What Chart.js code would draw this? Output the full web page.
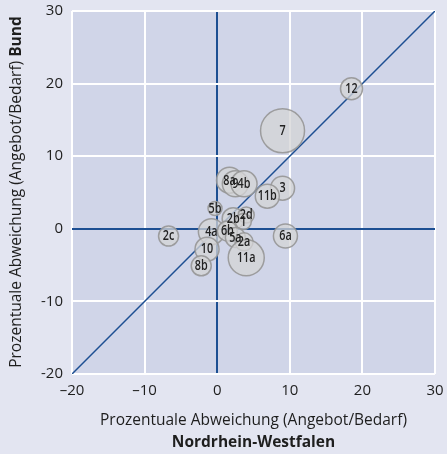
<!DOCTYPE html>
<html>
<head>
<meta charset="utf-8">
<script src="https://cdn.jsdelivr.net/npm/chart.js@4.4.1/dist/chart.umd.min.js"></script>
<style>
html,body{margin:0;padding:0;background:#e3e5f1;}
#wrap{width:447px;height:454px;position:relative;}
</style>
</head>
<body>
<div id="wrap"><canvas id="c" width="447" height="454"></canvas></div>
<script>
// Data
const bubbleLabels = ['12','7','3','11b','8a','9','4b','5b','2b','2d','1','4a','6b','5a','2a','11a','10','8b','2c','6a'];
const xValues      = [18.5, 9.0, 9.0, 6.9, 1.7, 2.5, 3.7, -0.3, 2.2, 4.0, 3.6, -0.8, 1.4, 2.5, 3.7, 4.0, -1.4, -2.2, -6.7, 9.4];
const yValues      = [19.3,13.5, 5.6, 4.5, 6.7, 6.2, 6.2,  2.8, 1.4, 1.9, 1.0, -0.4,-0.3,-1.2,-1.8,-4.0, -2.8, -5.1, -1.0,-1.0];
const bubbleSizes  = [11, 22, 12, 12, 13, 13, 13, 7, 11, 8, 8, 13, 10, 10, 9, 18, 12, 10, 10, 12];
const axisTicks    = [-20, -10, 0, 10, 20, 30];
const diagonal     = [-20, 30];

const xTitle1 = 'Prozentuale Abweichung (Angebot/Bedarf)';
const xTitle2 = 'Nordrhein-Westfalen';
const yTitle1 = 'Prozentuale Abweichung (Angebot/Bedarf) ';
const yTitle2 = 'Bund';

const FONT = '"Open Sans", "Noto Sans", sans-serif';
const BLUE = '#1d4f92';
const TITLE_SIZE = 15.5;

const bgPlugin = {
  id: 'bg',
  beforeDraw(chart) {
    const {ctx, chartArea: a} = chart;
    ctx.save();
    ctx.fillStyle = '#e3e5f1';
    ctx.fillRect(0, 0, chart.width, chart.height);
    ctx.fillStyle = '#d0d5e8';
    ctx.fillRect(a.left, a.top, a.right - a.left, a.bottom - a.top);
    ctx.restore();
  }
};

const labelPlugin = {
  id: 'bubbleLabels',
  afterDatasetsDraw(chart) {
    const meta = chart.getDatasetMeta(1);
    const ctx = chart.ctx;
    meta.data.forEach((el, i) => {
      ctx.save();
      ctx.font = '600 13.5px ' + FONT;
      ctx.fillStyle = '#222222';
      ctx.textAlign = 'center';
      ctx.textBaseline = 'middle';
      ctx.translate(el.x, el.y + 0.5);
      ctx.scale(0.8, 1);
      ctx.fillText(bubbleLabels[i], 0, 0);
      ctx.restore();
    });
  }
};

const titlePlugin = {
  id: 'titles',
  afterDraw(chart) {
    const {ctx, chartArea: a} = chart;
    ctx.save();
    ctx.fillStyle = '#1e1e1e';
    ctx.textBaseline = 'middle';
    ctx.textAlign = 'center';
    const cx = (a.left + a.right) / 2;
    ctx.font = TITLE_SIZE + 'px ' + FONT;
    ctx.fillText(xTitle1, cx, 421);
    ctx.font = 'bold ' + TITLE_SIZE + 'px ' + FONT;
    ctx.fillText(xTitle2, cx, 443);
    // y title (rotated, mixed weight)
    ctx.font = TITLE_SIZE + 'px ' + FONT;
    const w1 = ctx.measureText(yTitle1).width;
    ctx.font = 'bold ' + TITLE_SIZE + 'px ' + FONT;
    const w2 = ctx.measureText(yTitle2).width;
    const total = w1 + w2;
    const cy = 192;
    ctx.translate(17, cy);
    ctx.rotate(-Math.PI / 2);
    ctx.textAlign = 'left';
    ctx.font = TITLE_SIZE + 'px ' + FONT;
    ctx.fillText(yTitle1, -total / 2, 0);
    ctx.font = 'bold ' + TITLE_SIZE + 'px ' + FONT;
    ctx.fillText(yTitle2, -total / 2 + w1, 0);
    ctx.restore();
  }
};

const gridColor = ctx => (ctx.tick && ctx.tick.value === 0) ? BLUE : '#ffffff';

new Chart(document.getElementById('c'), {
  data: {
    datasets: [
      {
        type: 'line',
        data: diagonal.map(v => ({x: v, y: v})),
        borderColor: BLUE,
        borderWidth: 1.5,
        pointRadius: 0,
        order: 2
      },
      {
        type: 'bubble',
        data: xValues.map((x, i) => ({x: x, y: yValues[i], r: bubbleSizes[i]})),
        backgroundColor: 'rgba(212,212,214,0.75)',
        borderColor: 'rgba(150,150,150,0.9)',
        borderWidth: 1.5,
        order: 1
      }
    ]
  },
  options: {
    responsive: false,
    animation: false,
    devicePixelRatio: 1,
    layout: {autoPadding: false, padding: {top: 11, right: 12, left: 0, bottom: 0}},
    plugins: {legend: {display: false}, tooltip: {enabled: false}},
    scales: {
      x: {
        type: 'linear', min: -20, max: 30,
        afterBuildTicks: s => { s.ticks = axisTicks.map(v => ({value: v})); },
        afterFit: s => { s.height = 80; s.paddingLeft = 0; s.paddingRight = 0; },
        grid: {color: gridColor, lineWidth: 2, drawTicks: false},
        border: {display: false},
        ticks: {
          padding: 8,
          color: '#1e1e1e',
          font: {family: FONT, size: 15},
          callback: v => v < 0 ? '\u2013' + Math.abs(v) : String(v)
        }
      },
      y: {
        type: 'linear', min: -20, max: 30,
        afterBuildTicks: s => { s.ticks = axisTicks.map(v => ({value: v})); },
        afterFit: s => { s.width = 72; s.paddingTop = 0; s.paddingBottom = 0; },
        grid: {color: gridColor, lineWidth: 2, drawTicks: false},
        border: {display: false},
        ticks: {
          padding: 9,
          color: '#1e1e1e',
          font: {family: FONT, size: 15},
          callback: v => String(v)
        }
      }
    }
  },
  plugins: [bgPlugin, labelPlugin, titlePlugin]
});
</script>
</body>
</html>
